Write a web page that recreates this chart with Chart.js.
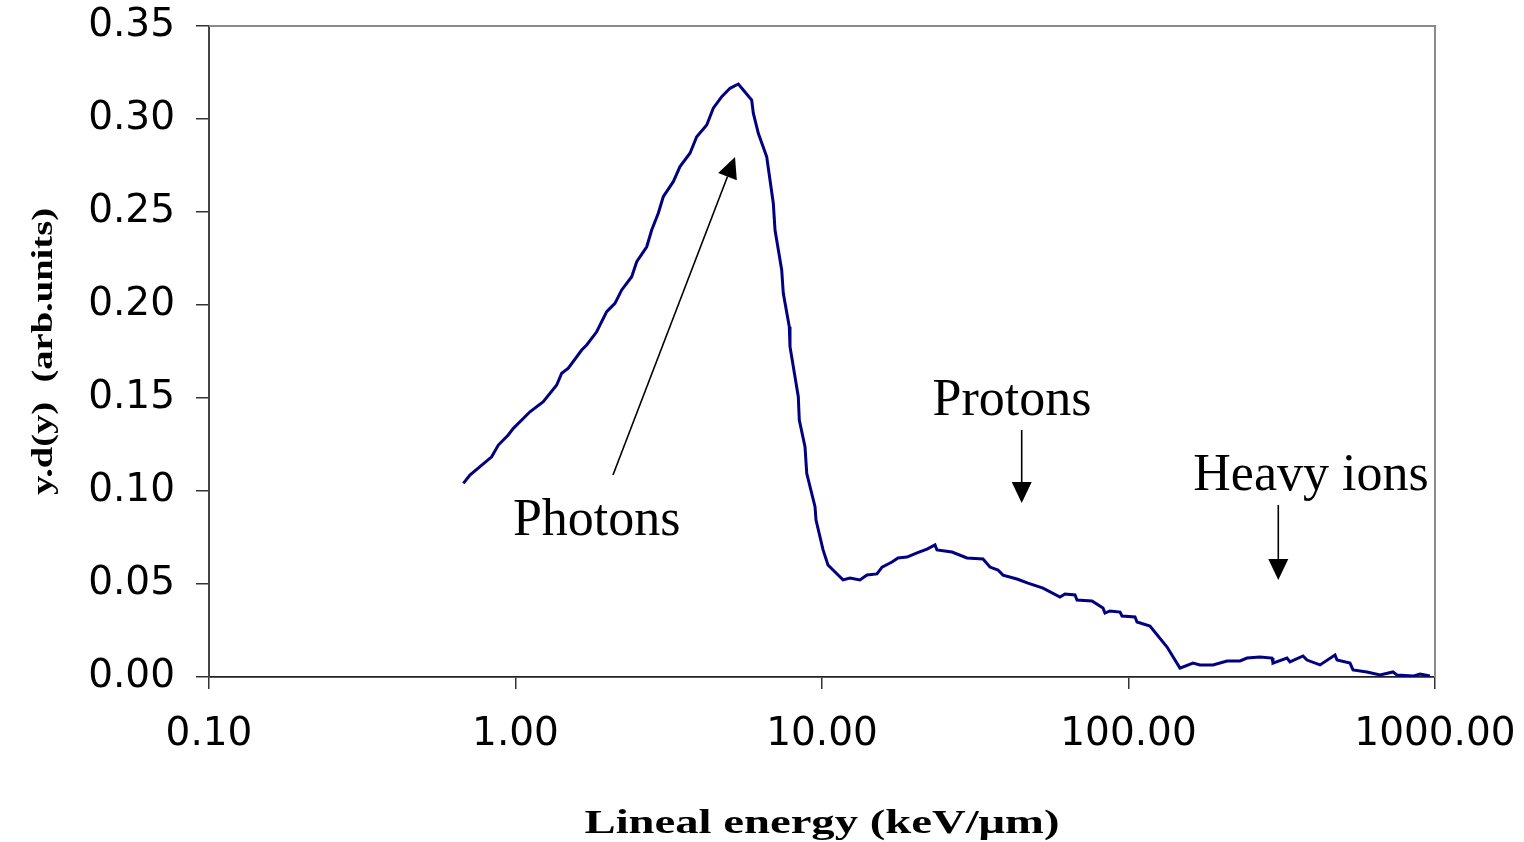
<!DOCTYPE html>
<html><head><meta charset="utf-8">
<script src="https://cdn.jsdelivr.net/npm/chart.js@4.4.0/dist/chart.umd.min.js"></script>
<style>html,body{margin:0;padding:0;background:#fff;overflow:hidden}#wrap{width:1524px;height:842px;position:relative}</style>
</head><body><div id="wrap"><canvas id="c" width="1524" height="842"></canvas></div>
<script>
// Lineal energy y (keV/µm)
const linealEnergy = [0.676,0.710,0.836,0.879,0.947,0.984,1.115,1.232,1.363,1.415,
1.487,1.644,1.707,1.840,1.984,2.111,2.221,2.394,2.486,2.680,
2.782,2.923,3.035,3.272,3.441,3.709,3.901,4.206,4.419,4.708,
5.010,5.333,5.537,5.897,5.969,6.197,6.601,6.936,7.026,7.388,
7.477,7.821,7.863,8.369,8.431,8.801,8.916,9.489,9.560,10.08,
10.46,11.71,12.34,13.30,14.02,15.11,15.70,16.92,17.70,18.94,
20.42,22.01,23.37,23.72,26.56,29.72,33.52,35.32,37.52,38.95,
43.27,46.99,52.62,59.78,62.06,66.91,67.92,76.03,82.56,83.80,
87.01,93.83,95.24,105.0,106.6,117.5,133.6,147.2,162.3,171.1,
188.7,209.6,231.1,243.6,268.5,293.9,296.1,328.9,336.4,371.0,
382.3,421.5,471.8,479.0,528.1,540.1,599.9,661.7,729.4,751.6,
847.6,893.5,963.1];
// y.d(y) values (arb. units)
const ydValues = [0.1041,0.1086,0.1184,0.1247,0.1301,0.1337,0.1426,0.1480,0.1570,0.1633,
0.1660,0.1758,0.1785,0.1856,0.1964,0.2009,0.2081,0.2152,0.2233,0.2313,
0.2403,0.2493,0.2582,0.2663,0.2744,0.2816,0.2905,0.2968,0.3058,0.3120,
0.3165,0.3188,0.3156,0.3102,0.3031,0.2923,0.2797,0.2547,0.2403,0.2188,
0.2063,0.1883,0.1776,0.1507,0.1382,0.1238,0.1095,0.0916,0.0844,0.0683,
0.0602,0.0522,0.0532,0.0522,0.0548,0.0554,0.0591,0.0618,0.0640,0.0645,
0.0667,0.0688,0.0710,0.0683,0.0672,0.0640,0.0634,0.0591,0.0575,0.0548,
0.0527,0.0505,0.0478,0.0430,0.0446,0.0441,0.0414,0.0409,0.0371,0.0344,
0.0355,0.0349,0.0328,0.0323,0.0296,0.0274,0.0161,0.0048,0.0075,0.0065,
0.0065,0.0086,0.0086,0.0102,0.0108,0.0102,0.0075,0.0102,0.0081,0.0113,
0.0091,0.0065,0.0118,0.0091,0.0075,0.0038,0.0027,0.0011,0.0027,0.0011,
0.0005,0.0016,0.0005];
const xTickValues = [0.1, 1, 10, 100, 1000];
const yMin = 0, yMax = 0.35, yStep = 0.05;
const xTitle = 'Lineal energy (keV/\u03bcm)';
const yTitle = 'y.d(y)  (arb.units)';
// annotations: label, label anchor (data coords), arrow tail -> tip (data coords)
const annLabels = ['Photons', 'Protons', 'Heavy ions'];
const annLabelX = [0.981, 41.69, 393.9];
const annLabelY = [0.0763, 0.1409, 0.1005];
const annAlign = ['left', 'center', 'center'];
const arrowTailX = [2.080, 44.83, 308.1];
const arrowTailY = [0.1086, 0.1328, 0.0925];
const arrowTipX = [5.203, 44.83, 308.1];
const arrowTipY = [0.2796, 0.0935, 0.0522];

const points = linealEnergy.map((x, i) => ({x, y: ydValues[i]}));

function drawStretched(ctx, text, cx, cy, targetW, font, rot) {
  ctx.save();
  ctx.font = font;
  const w = ctx.measureText(text).width;
  const sx = targetW / w;
  ctx.translate(cx, cy);
  if (rot) ctx.rotate(rot);
  ctx.scale(sx, 1);
  ctx.textAlign = 'center';
  ctx.textBaseline = 'alphabetic';
  ctx.fillStyle = '#000';
  ctx.fillText(text, 0, 0);
  ctx.restore();
}

const decor = {
  id: 'decor',
  afterDraw(chart) {
    const ctx = chart.ctx, a = chart.chartArea;
    const xs = chart.scales.x, ys = chart.scales.y;
    // top & right frame
    ctx.save();
    ctx.strokeStyle = '#8a8a8a';
    ctx.lineWidth = 2;
    ctx.beginPath();
    ctx.moveTo(a.left, a.top); ctx.lineTo(a.right, a.top); ctx.lineTo(a.right, a.bottom);
    ctx.stroke();
    ctx.restore();
    // annotations
    ctx.save();
    ctx.fillStyle = '#000';
    ctx.font = '52px "Liberation Serif", "Times New Roman", serif';
    ctx.textBaseline = 'alphabetic';
    annLabels.forEach((t, i) => {
      ctx.textAlign = annAlign[i];
      ctx.fillText(t, xs.getPixelForValue(annLabelX[i]), ys.getPixelForValue(annLabelY[i]));
    });
    ctx.strokeStyle = '#000';
    ctx.lineWidth = 1.6;
    for (let i = 0; i < arrowTailX.length; i++) {
      const x0 = xs.getPixelForValue(arrowTailX[i]), y0 = ys.getPixelForValue(arrowTailY[i]);
      const x1 = xs.getPixelForValue(arrowTipX[i]), y1 = ys.getPixelForValue(arrowTipY[i]);
      const ang = Math.atan2(y1 - y0, x1 - x0);
      const hl = 21, hw = 10;
      const bx = x1 - hl * Math.cos(ang), by = y1 - hl * Math.sin(ang);
      ctx.beginPath(); ctx.moveTo(x0, y0); ctx.lineTo(bx, by); ctx.stroke();
      ctx.beginPath();
      ctx.moveTo(x1, y1);
      ctx.lineTo(bx + hw * Math.sin(ang), by - hw * Math.cos(ang));
      ctx.lineTo(bx - hw * Math.sin(ang), by + hw * Math.cos(ang));
      ctx.closePath(); ctx.fill();
    }
    ctx.restore();
    // axis titles
    drawStretched(ctx, xTitle, (a.left + a.right) / 2, 833, 475, 'bold 33px "Liberation Serif", "Times New Roman", serif', 0);
    drawStretched(ctx, yTitle, 52, (a.top + a.bottom) / 2, 287, 'bold 30px "Liberation Serif", "Times New Roman", serif', -Math.PI / 2);
  }
};

new Chart(document.getElementById('c'), {
  type: 'line',
  data: { datasets: [{ data: points, borderColor: '#000080', borderWidth: 3, pointRadius: 0, tension: 0, fill: false }] },
  options: {
    responsive: false, animation: false, devicePixelRatio: 1,
    layout: { padding: { left: 0, top: 26, right: 89, bottom: 0 } },
    plugins: { legend: { display: false }, tooltip: { enabled: false } },
    scales: {
      x: {
        type: 'logarithmic', min: xTickValues[0], max: xTickValues[xTickValues.length - 1],
        afterBuildTicks: (s) => { s.ticks = xTickValues.map(v => ({value: v})); },
        afterFit: (s) => { s.height = 165; s.paddingLeft = 0; s.paddingRight = 0; },
        grid: { drawOnChartArea: false, drawTicks: true, tickLength: 12, color: '#333', lineWidth: 1.5 },
        border: { color: '#222', width: 1.8 },
        ticks: { autoSkip: false, maxRotation: 0, padding: 22, color: '#000',
          font: { family: '"DejaVu Sans", sans-serif', size: 39 },
          callback: (v) => Number(v).toFixed(2) }
      },
      y: {
        min: yMin, max: yMax,
        afterFit: (s) => { s.width = 209; s.paddingTop = 0; s.paddingBottom = 0; },
        grid: { drawOnChartArea: false, drawTicks: true, tickLength: 13, color: '#333', lineWidth: 1.5 },
        border: { color: '#444', width: 2 },
        ticks: { stepSize: yStep, padding: 21, color: '#000',
          font: { family: '"DejaVu Sans", sans-serif', size: 39 },
          callback: (v) => Number(v).toFixed(2) }
      }
    }
  },
  plugins: [decor]
});
</script></body></html>
